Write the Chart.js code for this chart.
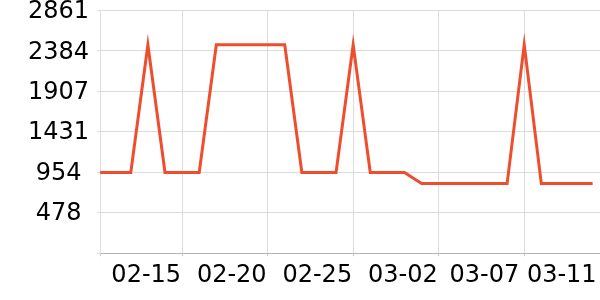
<!DOCTYPE html>
<html>
<head>
<meta charset="utf-8">
<script src="https://cdn.jsdelivr.net/npm/chart.js@4"></script>
<style>
  html, body { margin: 0; padding: 0; background: #fff; }
  #wrap { width: 600px; height: 300px; }
</style>
</head>
<body>
<div id="wrap"><canvas id="chart"></canvas></div>
<script>
const dates = [
  '02-10', '02-11', '02-12', '02-13', '02-14', '02-15', '02-16', '02-17', '02-18', '02-19',
  '02-20', '02-21', '02-22', '02-23', '02-24', '02-25', '02-26', '02-27', '02-28', '03-01',
  '03-02', '03-03', '03-04', '03-05', '03-06', '03-07', '03-08', '03-09', '03-10', '03-11',
];
const values = [
  950, 950, 950, 2455, 950, 950, 950, 2455, 2455, 2455,
  2455, 2455, 950, 950, 950, 2455, 950, 950, 950, 820,
  820, 820, 820, 820, 820, 2455, 820, 820, 820, 820,
];
const xTickDays = ['02-15', '02-20', '02-25', '03-02', '03-07', '03-11'];
const yTicks = [0, 478, 954, 1431, 1907, 2384, 2861];

const X_MIN = 0.205;
const X_MAX = 29.43;
const FONT = '24px "DejaVu Sans"';
const lastDay = dates.indexOf('03-11');

// label nudges (px) so the last two dates don't collide
const xLabelShift = { '03-07': -4, '03-11': 5 };

const points = values.map((v, i) => ({ x: i, y: v }));

// draw tick labels ourselves so they can be nudged a little
const tickLabelsPlugin = {
  id: 'tickLabels',
  afterDraw(chart) {
    const { ctx, scales } = chart;
    ctx.save();
    ctx.font = FONT;
    ctx.fillStyle = '#000';

    ctx.textAlign = 'right';
    ctx.textBaseline = 'middle';
    const xScale = scales.x;
    xTickDays.forEach((d) => {
      const x = xScale.getPixelForValue(dates.indexOf(d)) - 1 + (xLabelShift[d] || 0);
      ctx.fillText(d, x, xScale.top + 3 + 4 + 14.4 + 1);
    });

    ctx.textAlign = 'center';
    const yScale = scales.y;
    const cx = yScale.right - 3 - 8 - ctx.measureText('2861').width / 2;
    yTicks.forEach((v) => {
      if (v === 0) return;
      ctx.fillText(String(v), cx, yScale.getPixelForValue(v) + 1.5);
    });
    ctx.restore();
  },
};

new Chart(document.getElementById('chart'), {
  type: 'line',
  data: {
    datasets: [{
      data: points,
      borderColor: '#ef4d2d',
      borderWidth: 3,
      pointRadius: 0,
      tension: 0,
      fill: false,
      clip: 0,
    }],
  },
  plugins: [tickLabelsPlugin],
  options: {
    responsive: true,
    maintainAspectRatio: false,
    animation: false,
    layout: { padding: { left: 20, right: 0, top: 0, bottom: 7 } },
    plugins: { legend: { display: false }, tooltip: { enabled: false } },
    scales: {
      x: {
        type: 'linear',
        min: X_MIN,
        max: X_MAX,
        afterBuildTicks: (scale) => {
          scale.ticks = [X_MIN, ...xTickDays.map((d) => dates.indexOf(d))].map((v) => ({ value: v }));
        },
        border: { color: '#b4b4b4' },
        grid: {
          tickLength: 3,
          color: (ctx) => (ctx.tick && ctx.tick.value === lastDay ? 'rgba(0,0,0,0)' : '#dcdcdc'),
          tickColor: (ctx) => (ctx.tick && ctx.tick.value === lastDay ? 'rgba(0,0,0,0)' : '#c8c8c8'),
        },
        ticks: {
          autoSkip: false,
          maxRotation: 0,
          align: 'end',
          padding: 4,
          color: 'rgba(0,0,0,0)',
          font: { family: 'DejaVu Sans', size: 24 },
          callback: (value) => (Number.isInteger(value) ? dates[value] : ''),
        },
      },
      y: {
        min: 0,
        max: 2861,
        afterBuildTicks: (scale) => {
          scale.ticks = yTicks.map((v) => ({ value: v }));
        },
        border: { color: '#dcdcdc' },
        grid: { tickLength: 3, color: '#dcdcdc' },
        ticks: {
          crossAlign: 'center',
          padding: 8,
          color: 'rgba(0,0,0,0)',
          font: { family: 'DejaVu Sans', size: 24, lineHeight: 0.19 },
          callback: (value) => (value === 0 ? '' : String(value)),
        },
      },
    },
  },
});
</script>
</body>
</html>
